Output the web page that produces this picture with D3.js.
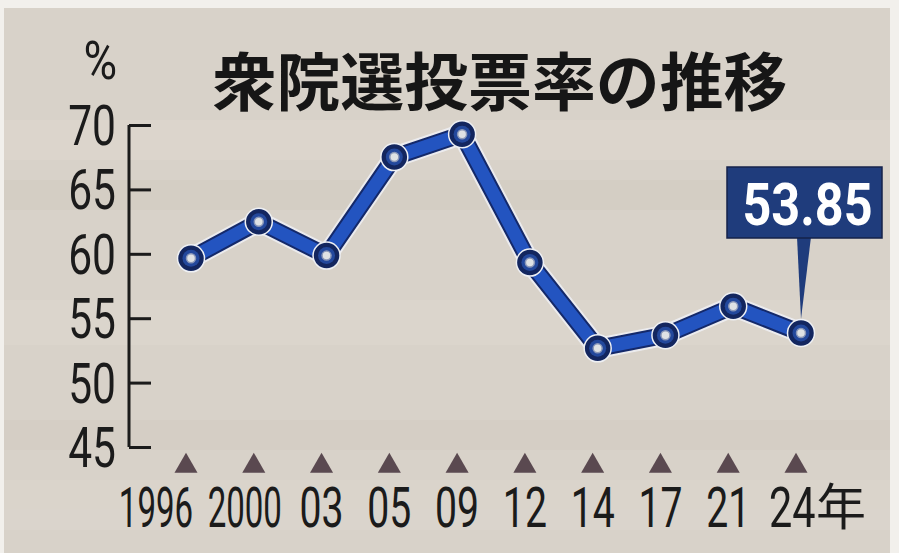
<!DOCTYPE html>
<html><head><meta charset="utf-8">
<script src="https://cdn.jsdelivr.net/npm/d3@7"></script>
<style>
html,body{margin:0;padding:0;background:#f2f0ec;}
svg{display:block;}
</style></head>
<body>
<script>
// ---- data ----
const years = ["1996","2000","03","05","09","12","14","17","21","24"];
const turnout = [59.65, 62.49, 59.86, 67.51, 69.28, 59.32, 52.66, 53.68, 55.93, 53.85];
const yTicks = [45, 50, 55, 60, 65, 70];
const title = "衆院選投票率の推移";
const unitLabel = "%";
const yearSuffix = "年";
const highlightIndex = 9;

// ---- layout ----
const W = 899, H = 553;
const svg = d3.select("body").append("svg").attr("width", W).attr("height", H);

svg.append("rect").attr("x", 4).attr("y", 8).attr("width", 886).attr("height", H - 8).attr("fill", "#d8d2c9");
const bands = svg.append("g").attr("opacity", 0.35);
[[120,40,"#e4ddd3"],[180,30,"#cfc7bd"],[300,45,"#e2dcd2"],[420,30,"#d0c9c0"],[480,50,"#e0dad1"]].forEach(b=>{
  bands.append("rect").attr("x",4).attr("y",b[0]).attr("width",886).attr("height",b[1]).attr("fill",b[2]);
});

const x = d3.scalePoint().domain(years).range([191, 801]);
const y = d3.scaleLinear().domain([45, 70]).range([447, 125]);

const ink = "#1b1b1b";
const digitFont = "Roboto, 'Liberation Sans', Arial, sans-serif";
const cjkFont = "'Noto Sans CJK JP', 'Noto Sans CJK SC', sans-serif";

// helper: horizontally condensed text (scaled with a transform)
function condText(g, tx, ty, str, sx, anchor, size) {
  return g.append("text")
    .attr("transform", `translate(${tx},${ty}) scale(${sx},1)`)
    .attr("text-anchor", anchor).attr("font-family", digitFont)
    .attr("font-size", size).attr("fill", ink).text(str);
}

// title
svg.append("text").attr("x", 500).attr("y", 77)
  .attr("text-anchor", "middle").attr("dominant-baseline", "central")
  .attr("font-family", cjkFont).attr("font-weight", 700).attr("font-size", 63)
  .attr("fill", "#161616").attr("textLength", 575).attr("lengthAdjust", "spacingAndGlyphs")
  .text(title);

// % unit
condText(svg, 117, 79, unitLabel, 0.85, "end", 54);

// y axis
const axisX = 129;
const yAxis = d3.axisRight(y).tickValues(yTicks).tickSize(22).tickFormat("");
const gy = svg.append("g").attr("transform", `translate(${axisX},0)`).call(yAxis);
gy.select(".domain").attr("d", `M0,${y(70)}V${y(45)}`).attr("stroke", ink).attr("stroke-width", 3);
gy.selectAll(".tick line").attr("stroke", ink).attr("stroke-width", 3);

const yl = svg.append("g");
yTicks.forEach(d => condText(yl, 116, y(d) + 20, String(d), 0.76, "end", 56));

// triangles
const triX = d => x(d) - 5;
svg.append("g").selectAll("path").data(years).join("path")
  .attr("d", d3.symbol().type(d3.symbolTriangle).size(230))
  .attr("transform", d => `translate(${triX(d)},466)`)
  .attr("fill", "#5a4950");

// x labels
const labelShift = {"1996": -30, "2000": -9};
const xl = svg.append("g");
years.forEach((d, i) => {
  const last = i === years.length - 1;
  if (last) {
    condText(xl, triX(d) - 27, 527, d, 0.74, "start", 56);
    xl.append("text").attr("x", triX(d) + 20).attr("y", 525)
      .attr("font-family", cjkFont).attr("font-size", 50).attr("fill", ink).text(yearSuffix);
  } else {
    condText(xl, triX(d) + (labelShift[d] || 0), 527, d, d.length === 4 ? 0.59 : 0.70, "middle", 56);
  }
});

// line
const pts = years.map((d, i) => [x(d), y(turnout[i])]);
const line = d3.line().x(p => p[0]).y(p => p[1]);
svg.append("path").attr("d", line(pts)).attr("fill", "none")
  .attr("stroke", "#eef0f4").attr("stroke-width", 21).attr("stroke-linejoin", "round").attr("stroke-linecap", "round").attr("opacity", 0.85);
svg.append("path").attr("d", line(pts)).attr("fill", "none")
  .attr("stroke", "#14296a").attr("stroke-width", 17).attr("stroke-linejoin", "round").attr("stroke-linecap", "round");
svg.append("path").attr("d", line(pts)).attr("fill", "none")
  .attr("stroke", "#2354c0").attr("stroke-width", 13).attr("stroke-linejoin", "round").attr("stroke-linecap", "round");

// markers
const mk = svg.append("g");
mk.selectAll("circle.o").data(pts).join("circle").attr("class", "o")
  .attr("cx", p => p[0]).attr("cy", p => p[1]).attr("r", 13.5)
  .attr("fill", "#13265f").attr("stroke", "#eef0f4").attr("stroke-width", 1.5);
mk.selectAll("circle.m").data(pts).join("circle").attr("class", "m")
  .attr("cx", p => p[0]).attr("cy", p => p[1]).attr("r", 8.5)
  .attr("fill", "#23489c");
mk.selectAll("circle.i").data(pts).join("circle").attr("class", "i")
  .attr("cx", p => p[0]).attr("cy", p => p[1]).attr("r", 4.5)
  .attr("fill", "#dfe2e4").attr("stroke", "#8a97b8").attr("stroke-width", 1.5);

// callout
const hp = pts[highlightIndex];
const box = {x: hp[0] - 74, y: 167, w: 155, h: 71};
const callout = svg.append("g");
callout.append("path")
  .attr("d", `M${hp[0] - 4},${box.y + box.h - 1}L${hp[0] + 10},${box.y + box.h - 1}L${hp[0]},${hp[1] - 14}Z`)
  .attr("fill", "#1f3c7c");
callout.append("rect").attr("x", box.x).attr("y", box.y).attr("width", box.w).attr("height", box.h)
  .attr("fill", "#1f3c7c").attr("stroke", "#15224a").attr("stroke-width", 1.5);
callout.append("text")
  .attr("transform", `translate(${box.x + box.w / 2 + 3},${box.y + 58}) scale(0.84,1)`)
  .attr("text-anchor", "middle").attr("font-family", digitFont).attr("font-weight", 700)
  .attr("font-size", 60).attr("fill", "#ffffff")
  .text(turnout[highlightIndex].toFixed(2));
</script>
</body></html>
